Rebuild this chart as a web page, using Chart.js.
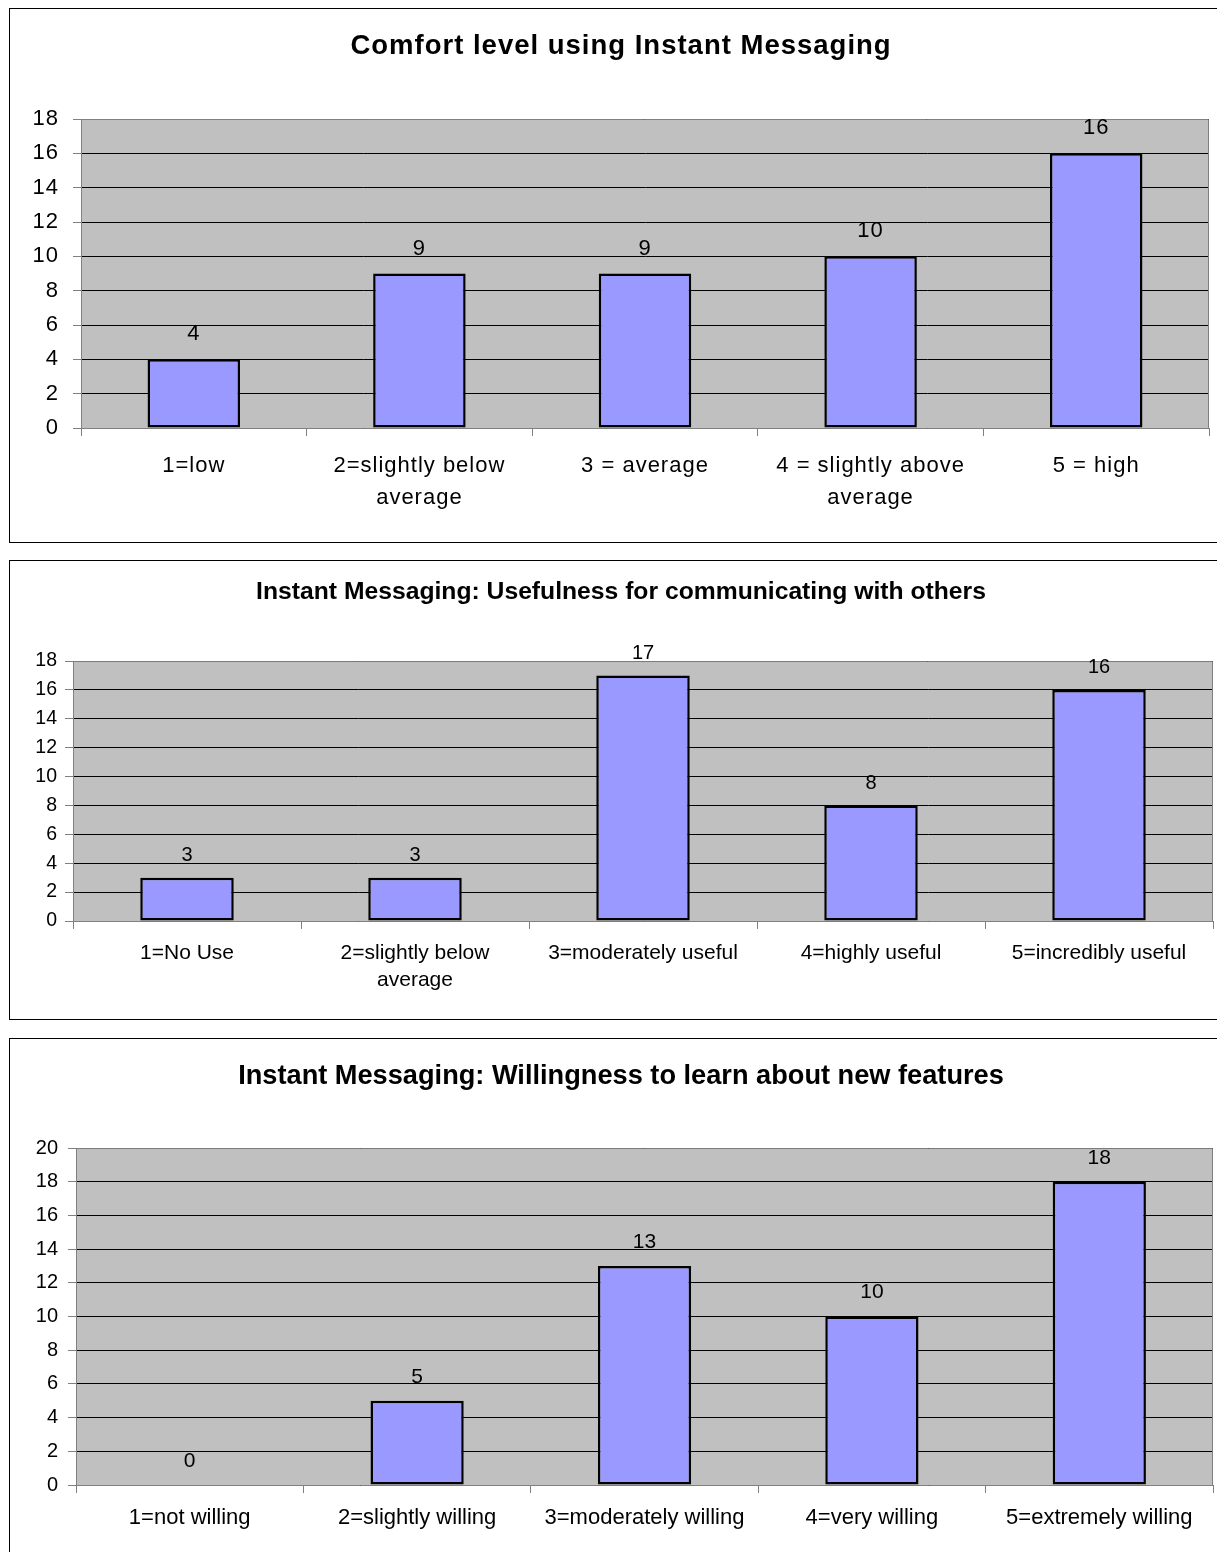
<!DOCTYPE html>
<html>
<head>
<meta charset="utf-8">
<script src="https://cdn.jsdelivr.net/npm/chart.js@4.4.0/dist/chart.umd.min.js"></script>
<style>
  html, body { margin: 0; padding: 0; background: #fff; overflow: hidden; }
  body { width: 1217px; height: 1552px; position: relative; }
  .frame { position: absolute; left: 9px; border: 1px solid #000; background: #fff; }
  .frame canvas { display: block; }
</style>
</head>
<body>
<div class="frame" style="top:8px"><canvas id="comfort" width="1222" height="533"></canvas></div>
<div class="frame" style="top:560px"><canvas id="usefulness" width="1222" height="458"></canvas></div>
<div class="frame" style="top:1038px"><canvas id="willingness" width="1222" height="540"></canvas></div>

<script>
// survey answers, one array per question
const comfortLabels = ['1=low', ['2=slightly below', 'average'], '3 = average', ['4 = slightly above', 'average'], '5 = high'];
const comfortCounts = [4, 9, 9, 10, 16];
const comfortMax = 18;

const usefulLabels = ['1=No Use', ['2=slightly below', 'average'], '3=moderately useful', '4=highly useful', '5=incredibly useful'];
const usefulCounts = [3, 3, 17, 8, 16];
const usefulMax = 18;

const willingLabels = ['1=not willing', '2=slightly willing', '3=moderately willing', '4=very willing', '5=extremely willing'];
const willingCounts = [0, 5, 13, 10, 18];
const willingMax = 20;

const FONT = "'Liberation Sans', Arial, sans-serif";
Chart.defaults.font.family = FONT;
Chart.defaults.color = '#000';

// grey plot area + value above each bar
const plotArea = {
  id: 'plotArea',
  beforeUpdate(chart, args, opts) {
    chart.ctx.letterSpacing = opts.spacing || '0px';
  },
  beforeDraw(chart, args, opts) {
    const { ctx, chartArea: a } = chart;
    ctx.letterSpacing = opts.spacing || '0px';
    ctx.save();
    ctx.fillStyle = '#C0C0C0';
    ctx.fillRect(a.left, a.top, a.right - a.left, a.bottom - a.top);
    ctx.restore();
  },
  beforeDatasetsDraw(chart) {
    const { ctx, chartArea: a } = chart;
    ctx.save();
    ctx.strokeStyle = '#808080';
    ctx.lineWidth = 1;
    ctx.beginPath();
    ctx.moveTo(a.left, a.top + 0.5);
    ctx.lineTo(a.right - 0.5, a.top + 0.5);
    ctx.lineTo(a.right - 0.5, a.bottom);
    ctx.stroke();
    ctx.restore();
  },
  afterDatasetsDraw(chart, args, opts) {
    const ctx = chart.ctx;
    const values = chart.data.datasets[0].data;
    ctx.save();
    ctx.font = opts.valueSize + 'px ' + FONT;
    ctx.fillStyle = '#000';
    ctx.textAlign = 'center';
    ctx.textBaseline = 'middle';
    chart.getDatasetMeta(0).data.forEach((bar, i) => {
      ctx.fillText(String(values[i]), bar.x, bar.y - opts.valueOffset);
    });
    ctx.restore();
  }
};

function makeChart(id, title, labels, counts, yMax, o) {
  return new Chart(document.getElementById(id), {
    type: 'bar',
    data: {
      labels: labels,
      datasets: [{
        data: counts,
        backgroundColor: '#9999FF',
        borderColor: '#000',
        borderWidth: 2.5,
        borderSkipped: false,
        barPercentage: 0.41,
        categoryPercentage: 1
      }]
    },
    options: {
      responsive: false,
      animation: false,
      plugins: {
        legend: { display: false },
        tooltip: { enabled: false },
        title: {
          display: true,
          text: title,
          color: '#000',
          font: { size: o.titleSize, weight: 'bold', lineHeight: 1.2 },
          padding: { top: o.titleTop, bottom: o.titleBottom }
        },
        plotArea: { valueSize: o.valueSize, valueOffset: o.valueOffset, spacing: o.spacing }
      },
      scales: {
        x: {
          grid: { offset: true, drawOnChartArea: false, tickLength: 8, color: '#808080' },
          border: { color: '#808080' },
          ticks: {
            autoSkip: false, maxRotation: 0, padding: o.xPad,
            font: { size: o.xSize, lineHeight: o.xLine }
          },
          afterFit: s => { s.height = o.xHeight; }
        },
        y: {
          min: 0, max: yMax,
          ticks: { stepSize: 2, padding: o.yPad, font: { size: o.ySize } },
          grid: { color: '#000', tickColor: '#808080', tickLength: 8 },
          border: { color: '#808080' },
          afterFit: s => { s.width = o.yWidth; }
        },
        // empty strip on the right, keeps the title centred on the frame
        gap: {
          position: 'right',
          grid: { display: false },
          ticks: { display: false },
          border: { display: false },
          afterFit: s => { s.width = o.gapRight; }
        }
      }
    },
    plugins: [plotArea]
  });
}

makeChart('comfort', 'Comfort level using Instant Messaging', comfortLabels, comfortCounts, comfortMax, {
  gapRight: 23, titleSize: 27.5, titleTop: 20.5, titleBottom: 56.5,
  xSize: 22, xLine: 1.45, xPad: 14, xHeight: 114,
  ySize: 22, yPad: 14, yWidth: 71,
  valueSize: 22, valueOffset: 25, spacing: '1px'
});

makeChart('usefulness', 'Instant Messaging: Usefulness for communicating with others', usefulLabels, usefulCounts, usefulMax, {
  gapRight: 19, titleSize: 24.7, titleTop: 16.2, titleBottom: 54.2,
  xSize: 21, xLine: 1.29, xPad: 10.5, xHeight: 98,
  ySize: 19.5, yPad: 8, yWidth: 63,
  valueSize: 20, valueOffset: 22
});

makeChart('willingness', 'Instant Messaging: Willingness to learn about new features', willingLabels, willingCounts, willingMax, {
  gapRight: 19, titleSize: 27.2, titleTop: 20.7, titleBottom: 55.7,
  xSize: 22, xLine: 1.2, xPad: 11.8, xHeight: 94,
  ySize: 20, yPad: 10, yWidth: 66,
  valueSize: 21, valueOffset: 24
});
</script>
</body>
</html>
